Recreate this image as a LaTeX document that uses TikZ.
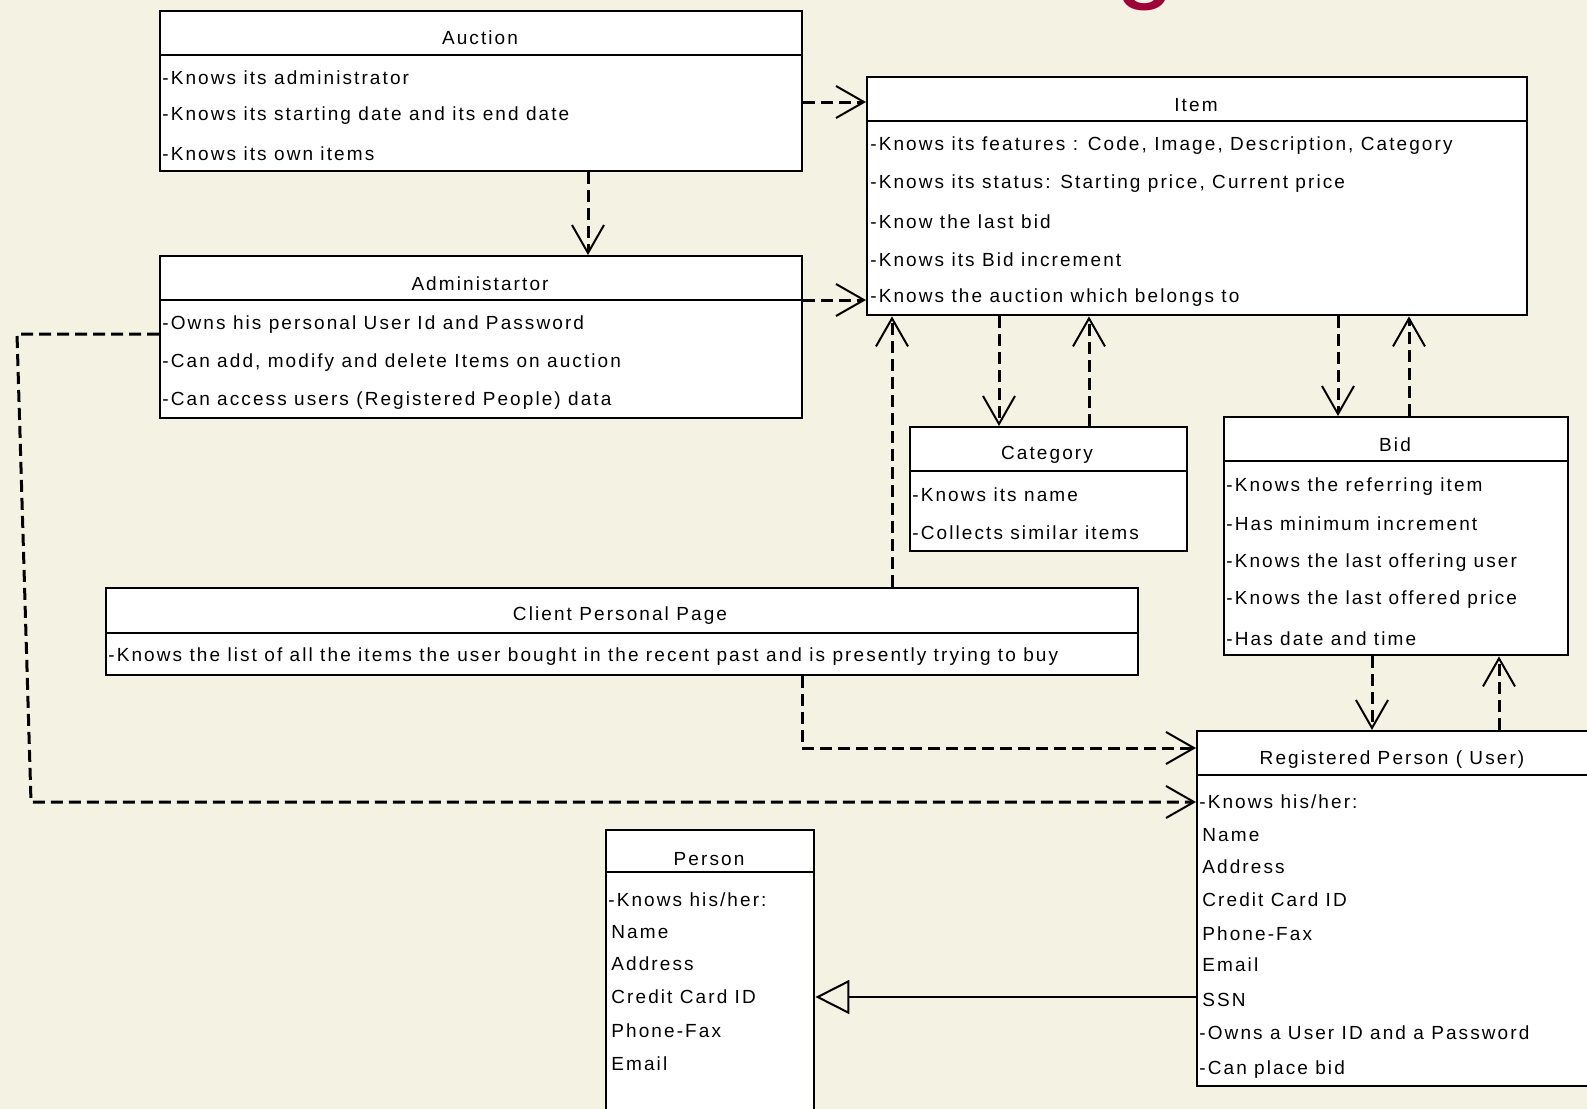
\documentclass[tikz,border=0pt]{standalone}
\usepackage{fontspec}
\setmainfont{Liberation Sans}
\newfontfamily\umlfont[LetterSpace=11]{Liberation Sans}
\usetikzlibrary{arrows.meta}
\definecolor{slidebg}{RGB}{244,243,227}
\definecolor{titlered}{RGB}{158,0,56}
\tikzset{
  classbox/.style 2 args={draw, fill=white, line width=1.2pt, anchor=north west, inner sep=0pt, minimum width=#1*0.5pt, minimum height=#2*0.5pt},
  head/.style={font=\umlfont\fontsize{9.5}{12}\selectfont, inner sep=0pt, yshift=-1pt},
  row/.style={font=\umlfont\fontsize{9.5}{12}\selectfont, inner sep=0pt, anchor=west, yshift=-1pt},
  sep/.style={line width=1.2pt},
  dep/.style={line width=1.5pt, dash pattern=on 6pt off 3pt, -{Straight Barb[length=14pt,width=16pt,line width=1pt]}},
  inherit/.style={line width=1pt, -{Triangle[open,length=17pt,width=17pt,line width=1pt]}}
}
\begin{document}
\begin{tikzpicture}[x=0.5pt,y=-0.5pt]
	\useasboundingbox (0,0) rectangle (1587,1109);
	\clip (0,0) rectangle (1587,1109);
	\fill[slidebg] (0,0) rectangle (1587,1109);
	\node[font=\fontsize{54}{60}\selectfont, text=titlered, anchor=base, inner sep=0pt] (title-g) at (1146,-12) {g};
	%AUCTION
	\node[classbox={642}{160}] (auction) at (159,10) {};
	\draw[sep] (auction.west |- 0,55) -- (auction.east |- 0,55);
	\node[head] (auction-h) at (480,36) {Auction};
	\node[row] (auction-1) at (162,76) {-Knows its administrator};
	\node[row] (auction-2) at (162,114) {-Knows its starting date and its end date};
	\node[row] (auction-3) at (162,152) {-Knows its own items};
	%ITEM
	\node[classbox={660}{238}] (item) at (866,76) {};
	\draw[sep] (item.west |- 0,121) -- (item.east |- 0,121);
	\node[head] (item-h) at (1196,103) {Item};
	\node[row] (item-1) at (870,144) {-Knows its features : Code, Image, Description, Category};
	\node[row] (item-2) at (870,182) {-Knows its status: Starting price, Current price};
	\node[row] (item-3) at (870,220) {-Know the last bid};
	\node[row] (item-4) at (870,258) {-Knows its Bid increment};
	\node[row] (item-5) at (870,296) {-Knows the auction which belongs to};
	%ADMINISTARTOR
	\node[classbox={642}{162}] (admin) at (159,255) {};
	\draw[sep] (admin.west |- 0,300) -- (admin.east |- 0,300);
	\node[head] (admin-h) at (480,282) {Administartor};
	\node[row] (admin-1) at (162,323) {-Owns his personal User Id and Password};
	\node[row] (admin-2) at (162,361) {-Can add, modify and delete Items on auction};
	\node[row] (admin-3) at (162,399) {-Can access users (Registered People) data};
	%CATEGORY
	\node[classbox={277}{124}] (category) at (909,426) {};
	\draw[sep] (category.west |- 0,471) -- (category.east |- 0,471);
	\node[head] (category-h) at (1047,453) {Category};
	\node[row] (category-1) at (912,493) {-Knows its name};
	\node[row] (category-2) at (912,531) {-Collects similar items};
	%BID
	\node[classbox={344}{238}] (bid) at (1223,416) {};
	\draw[sep] (bid.west |- 0,461) -- (bid.east |- 0,461);
	\node[head] (bid-h) at (1395,443) {Bid};
	\node[row] (bid-1) at (1226,485) {-Knows the referring item};
	\node[row] (bid-2) at (1226,522) {-Has minimum increment};
	\node[row] (bid-3) at (1226,561) {-Knows the last offering user};
	\node[row] (bid-4) at (1226,598) {-Knows the last offered price};
	\node[row] (bid-5) at (1226,637) {-Has date and time};
	%CLIENT PAGE
	\node[classbox={1032}{87}] (client) at (105,587) {};
	\draw[sep] (client.west |- 0,633) -- (client.east |- 0,633);
	\node[head] (client-h) at (620,614) {Client Personal Page};
	\node[row] (client-1) at (108,655) {-Knows the list of all the items the user bought in the recent past and is presently trying to buy};
	%REGISTERED PERSON
	\node[classbox={404}{355}] (user) at (1196,730) {};
	\draw[sep] (user.west |- 0,775) -- (user.east |- 0,775);
	\node[head] (user-h) at (1392,758) {Registered Person ( User)};
	\node[row] (user-1) at (1199,800) {-Knows his/her:};
	\node[row] (user-2) at (1202,833) {Name};
	\node[row] (user-3) at (1202,865) {Address};
	\node[row] (user-4) at (1202,898) {Credit Card ID};
	\node[row] (user-5) at (1202,932) {Phone-Fax};
	\node[row] (user-6) at (1202,963) {Email};
	\node[row] (user-7) at (1202,998) {SSN};
	\node[row] (user-8) at (1199,1031) {-Owns a User ID and a Password};
	\node[row] (user-9) at (1199,1068) {-Can place bid};
	%PERSON
	\node[classbox={208}{291}] (person) at (605,829) {};
	\draw[sep] (person.west |- 0,872) -- (person.east |- 0,872);
	\node[head] (person-h) at (709,857) {Person};
	\node[row] (person-1) at (608,898) {-Knows his/her:};
	\node[row] (person-2) at (611,930) {Name};
	\node[row] (person-3) at (611,962) {Address};
	\node[row] (person-4) at (611,995) {Credit Card ID};
	\node[row] (person-5) at (611,1029) {Phone-Fax};
	\node[row] (person-6) at (611,1062) {Email};
	%DEPENDENCIES
	\draw[dep] (auction.east |- 0,102) -- (item.west |- 0,102);
	\draw[dep] (auction.south -| 588,0) -- (admin.north -| 588,0);
	\draw[dep] (admin.east |- 0,300) -- (item.west |- 0,300);
	\draw[dep] (item.south -| 999,0) -- (category.north -| 999,0);
	\draw[dep] (category.north -| 1089,0) -- (item.south -| 1089,0);
	\draw[dep] (client.north -| 892,0) -- (item.south -| 892,0);
	\draw[dep] (item.south -| 1338,0) -- (bid.north -| 1338,0);
	\draw[dep] (bid.north -| 1409,0) -- (item.south -| 1409,0);
	\draw[dep] (bid.south -| 1372,0) -- (user.north -| 1372,0);
	\draw[dep] (user.north -| 1499,0) -- (bid.south -| 1499,0);
	\draw[dep] (client.south -| 802,0) |- (user.west |- 0,748);
	\draw[dep] (admin.west |- 0,334) -- (17,334) -- (31,802) -- (user.west |- 0,802);
	%GENERALIZATION
	\draw[inherit] (user.west |- 0,997) -- (person.east |- 0,997);
\end{tikzpicture}
\end{document}
